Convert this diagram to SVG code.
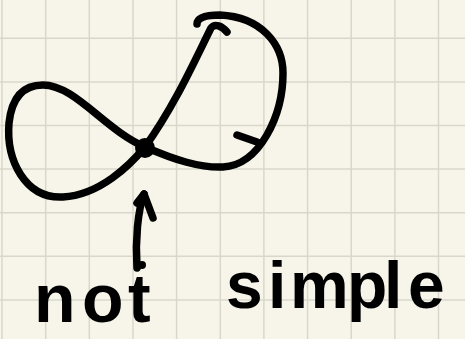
<svg xmlns="http://www.w3.org/2000/svg" width="465" height="339" viewBox="0 0 465 339">
<style>
.grid{stroke:#d9d7cb;stroke-width:1.5;fill:none}
.ink{stroke:#000;stroke-width:7.5;fill:none;stroke-linecap:round;stroke-linejoin:round}
.hand{font-family:"Liberation Sans",Arial,sans-serif;font-weight:bold;fill:#000}
</style>
<rect width="465" height="339" fill="#f7f5e9"/>
<path class="grid" d="M2 0V339M45.7 0V339M89.3 0V339M133 0V339M176.6 0V339M220.3 0V339M263.9 0V339M307.6 0V339M351.2 0V339M394.9 0V339M438.5 0V339M0 38.3H465M0 81.9H465M0 125.5H465M0 169.1H465M0 212.7H465M0 256.3H465M0 299.9H465"/>
<g id="curve">
<path class="ink" d="M227 32C222 26 215 23 211 28C195 60 175 105 145 147C130 165 100 195 63 197C25 199 6 160 9 123C12 95 25 85 43 85C75 85 105 130 145 147C175 160 200 168 223 167C260 165 283 115 283 73C283 45 262 17 220 15C205 15 197 18 197 24"/>
<path class="ink" d="M237 135L257 142"/>
<circle cx="145" cy="148" r="10" fill="#000"/>
</g>
<g id="connectors">
<path class="ink" d="M144 194C138 210 135 240 137 268"/>
<path class="ink" d="M137 203L144 194L153 218"/>
<circle cx="142" cy="265" r="4" fill="#000"/>
</g>
<g id="label">
<text class="hand" font-size="68"><tspan x="34 82 128" y="322">not </tspan><tspan x="226 268 290 347 384 408" y="308" font-size="66">simple</tspan></text>
</g>
</svg>
